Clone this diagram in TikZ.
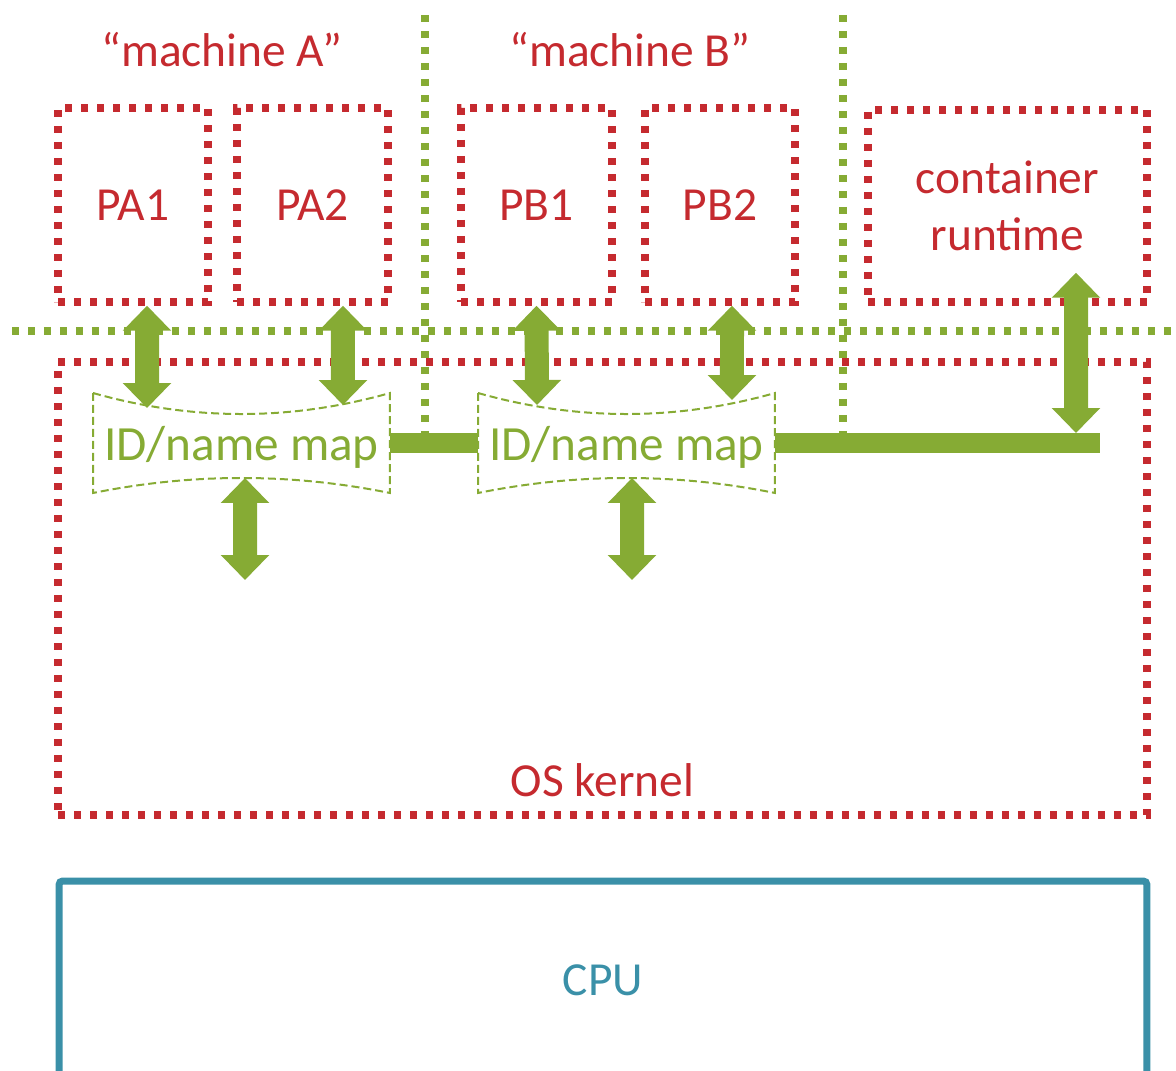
\documentclass[tikz,border=0pt]{standalone}
\usepackage{fontspec}
\setmainfont{Carlito}
\usetikzlibrary{arrows.meta, positioning}
\definecolor{osred}{HTML}{C52A2F}
\definecolor{nsgreen}{HTML}{86AB34}
\definecolor{cputeal}{HTML}{3A90A8}

\begin{document}
\begin{tikzpicture}[
  x=0.02cm, y=-0.02cm,
  lbl/.style={font=\fontsize{27}{32.4}\selectfont, text=osred, inner sep=0pt},
  proc/.style={rectangle, draw=osred, line width=0.15cm, dash pattern=on 0.14cm off 0.18cm,
    minimum height=3.88cm, inner sep=0pt, font=\fontsize{27}{32.4}\selectfont, text=osred},
  sep/.style={draw=nsgreen, line width=0.15cm, dash pattern=on 0.14cm off 0.18cm},
  mapbox/.style={minimum width=5.94cm, minimum height=2cm, inner sep=0pt, outer sep=0pt,
    text depth=0pt, font=\fontsize{28}{33.6}\selectfont, text=nsgreen},
  mapline/.style={draw=nsgreen, line width=0.04cm, dash pattern=on 0.16cm off 0.08cm},
  bar/.style={draw=nsgreen, line width=0.4cm},
  dbl/.style={draw=nsgreen, line width=0.48cm,
    arrows={Triangle[length=0.5cm, width=0.94cm]-Triangle[length=0.5cm, width=0.94cm]}},
  cpubox/.style={rectangle, draw=cputeal, line width=0.14cm, rounded corners=2pt,
    font=\fontsize{27}{32.4}\selectfont, text=cputeal},
]

% Frame
\useasboundingbox (0,0) rectangle (1176,1071);
\clip (0,0) rectangle (1176,1071);

% Separators between the machines
\draw[sep] (12,331) -- (1176,331);
\draw[sep] (425,15) -- (425,443);
\draw[sep] (843,15) -- (843,443);

% Machine names
\node[lbl, anchor=base] (macha) at (222,67) {“machine A”};
\node[lbl, anchor=base] (machb) at (630,67) {“machine B”};

% Processes
\node[proc, minimum width=3cm] (pa1) at (133,205) {PA1};
\node[proc, minimum width=3.02cm] (pa2) at (312.5,205) {PA2};
\node[proc, minimum width=3.02cm] (pb1) at (536.5,205) {PB1};
\node[proc, minimum width=3cm] (pb2) at (720,205) {PB2};
\node[proc, minimum width=5.58cm, minimum height=3.84cm, align=center] (rt) at (1007.5,206)
  {container\\runtime};

% Kernel
\node[proc, minimum width=21.78cm, minimum height=9.06cm] (kernel) at (602.5,588.5) {};
\node[lbl, above=0.44cm of kernel.south] (kernellbl) {OS kernel};

% ID/name maps
\node[mapbox] (map1) at (241.5,443) {ID/name map};
\node[mapbox] (map2) at (626.5,443) {ID/name map};
\foreach \m in {map1, map2}
  \draw[mapline] (\m.north west) .. controls +(99,28) and +(-99,28) .. (\m.north east)
    -- (\m.south east) .. controls +(-99,-20) and +(99,-20) .. (\m.south west) -- cycle;

% Links between the maps
\coordinate (barend) at (1100,443);
\draw[bar] (map1.east) -- (map2.west);
\draw[bar] (map2.east) -- (barend);

% Lookups
\draw[dbl] ([xshift=0.28cm]pa1.south) -- ([xshift=-1.89cm, yshift=-0.3cm]map1.north);
\draw[dbl] ([xshift=0.61cm]pa2.south) -- ([xshift=2.03cm, yshift=-0.24cm]map1.north);
\draw[dbl] (pb1.south) -- ([xshift=-1.79cm, yshift=-0.24cm]map2.north);
\draw[dbl] ([xshift=0.24cm]pb2.south) -- ([xshift=2.11cm, yshift=-0.14cm]map2.north);
\draw[dbl] ([xshift=1.37cm, yshift=0.66cm]rt.south) -- ([xshift=-0.48cm, yshift=0.2cm]barend);

\coordinate (k1) at (245,580);
\coordinate (k2) at (632,580);
\draw[dbl] ([xshift=0.07cm, yshift=0.3cm]map1.south) -- (k1);
\draw[dbl] ([xshift=0.11cm, yshift=0.3cm]map2.south) -- (k2);

% CPU
\node[cpubox, minimum width=21.76cm, minimum height=3.96cm] (cpu) at (603,980) {CPU};

\end{tikzpicture}
\end{document}
